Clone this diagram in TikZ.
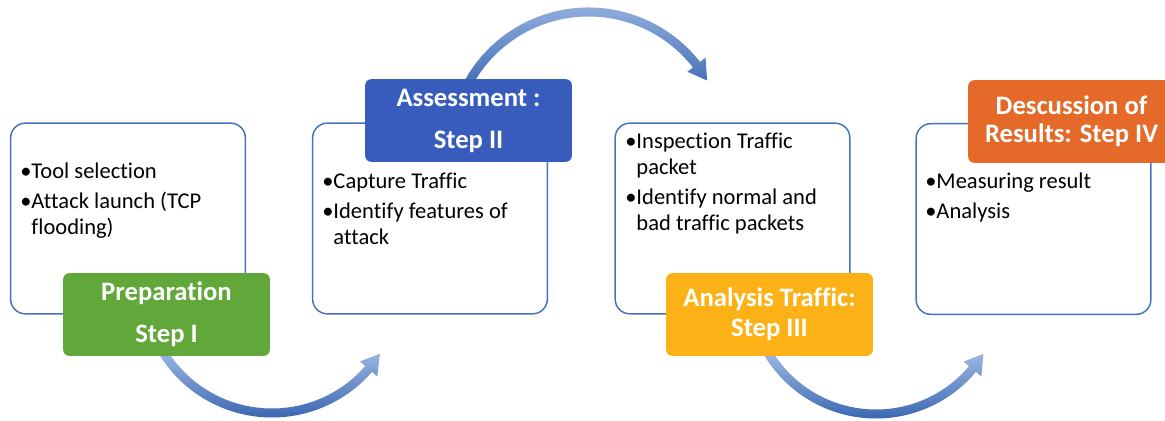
\documentclass[tikz,border=0pt]{standalone}
\usepackage{fontspec}
\setmainfont{Carlito}[Ligatures=NoCommon]
\usepackage{tikz}
\usepackage{xcolor}
\usetikzlibrary{calc}

\definecolor{frameblue}{RGB}{68,114,196}
\definecolor{prepgreen}{RGB}{97,167,58}
\definecolor{assessblue}{RGB}{56,92,188}
\definecolor{analyellow}{RGB}{252,178,22}
\definecolor{discorange}{RGB}{229,106,42}
\definecolor{arrowlight}{RGB}{162,188,230}
\definecolor{arrowdark}{RGB}{60,104,178}

\begin{document}
\begin{tikzpicture}[x=0.75pt,y=0.75pt,yscale=-1,xscale=1,
  stagebox/.style={draw=frameblue,line width=1.1pt,fill=white,rounded corners=11pt,
    minimum width=176pt,minimum height=143pt,inner sep=0pt},
  steplabel/.style={rounded corners=4.5pt,text=white,align=center,inner sep=0pt,
    minimum width=155pt,minimum height=62pt,
    font=\fontsize{20}{21}\selectfont\bfseries},
  itemtext/.style={anchor=north west,inner sep=0pt,align=left,
    font=\fontsize{16.9}{19.5}\selectfont},
  bendarrow/.style={draw=none,top color=arrowlight,bottom color=arrowdark}]
\useasboundingbox (0,0) rectangle (1165,421);
\clip (0,0) rectangle (1165,421);

% Arc centres of the three bent arrows
\coordinate (turn1) at (272,285);
\coordinate (turn2) at (588.5,149);
\coordinate (turn3) at (876,288);

%Curved Arrow [Step I -> Step II]
\shade[bendarrow] ($(turn1)+(150:132.5)$) arc[start angle=150, end angle=41, radius=132.5]
  -- ($(turn1)+(41:139.5)$) -- ($(turn1)+(32.5:128)$) -- ($(turn1)+(41:116.5)$) -- ($(turn1)+(41:123.5)$)
  arc[start angle=41, end angle=150, radius=123.5] -- cycle ;
%Curved Arrow [Step II -> Step III]
\shade[bendarrow] ($(turn2)+(205:141.5)$) arc[start angle=205, end angle=322, radius=141.5]
  -- ($(turn2)+(322:148.5)$) -- ($(turn2)+(330:137)$) -- ($(turn2)+(322:125.5)$) -- ($(turn2)+(322:132.5)$)
  arc[start angle=322, end angle=205, radius=132.5] -- cycle ;
%Curved Arrow [Step III -> Step IV]
\shade[bendarrow] ($(turn3)+(150:130.5)$) arc[start angle=150, end angle=40, radius=130.5]
  -- ($(turn3)+(40:137.5)$) -- ($(turn3)+(31.5:126)$) -- ($(turn3)+(40:114.5)$) -- ($(turn3)+(40:121.5)$)
  arc[start angle=40, end angle=150, radius=121.5] -- cycle ;

%Rounded Rect [stage boxes]
\node[stagebox] (box1) at (128,218.5) {};
\node[stagebox] (box2) at (430,218.5) {};
\node[stagebox] (box3) at (732.5,218.5) {};
\node[stagebox] (box4) at (1033.5,219) {};

% Text Node
\node[itemtext] (list1) at (20,163) {•Tool selection\\[3pt] •Attack launch (TCP\\ \hphantom{•}flooding)};
% Text Node
\node[itemtext] (list2) at (322,173) {•Capture Traffic\\[3pt] •Identify features of\\ \hphantom{•}attack};
% Text Node
\node[itemtext] (list3) at (625,133) {•Inspection Traffic\\ \hphantom{•}packet\\[3pt] •Identify normal and\\ \hphantom{•}bad traffic packets};
% Text Node
\node[itemtext] (list4) at (925,173) {•Measuring result\\[3pt] •Analysis};

%Rounded Rect [step labels]
\node[steplabel,fill=prepgreen] (prep) at (166.5,314.5) {Preparation\\[10.5pt] Step I};
\node[steplabel,fill=assessblue] (assess) at (468.5,120.5) {Assessment :\\[10.5pt] Step II};
\node[steplabel,fill=analyellow] (anal) at (769.5,314.5) {Analysis Traffic:\\[1.5pt] Step III};
\node[steplabel,fill=discorange] (disc) at (1071.5,121.5) {Descussion of\\ Results: Step IV};
\end{tikzpicture}
\end{document}
